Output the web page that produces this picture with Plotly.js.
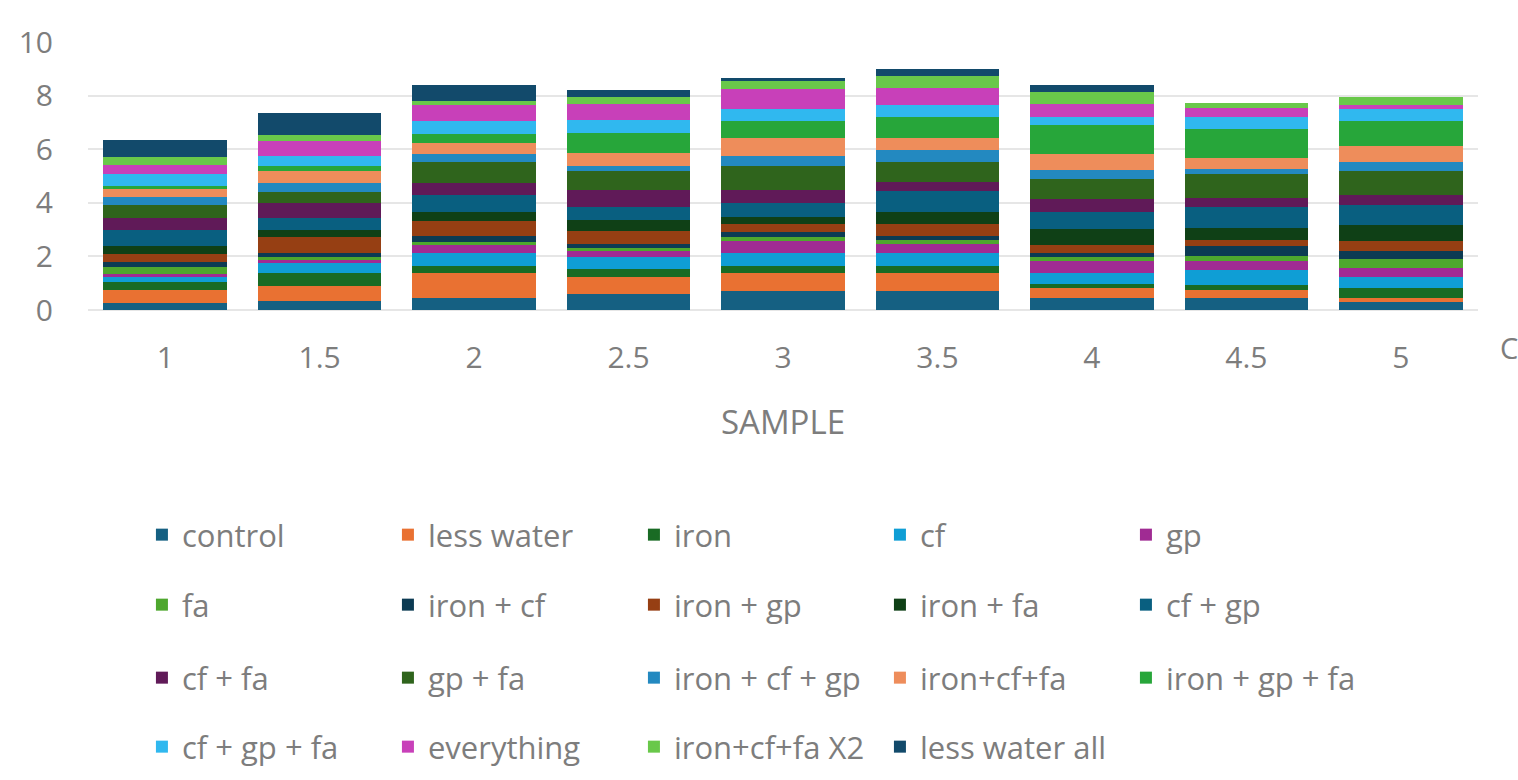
<!DOCTYPE html>
<html>
<head>
<meta charset="utf-8">
<script src="https://cdn.plot.ly/plotly-3.0.1.min.js"></script>
<style>
  html, body { margin: 0; padding: 0; background: #ffffff; }
  #chart { width: 1518px; height: 780px; }
</style>
</head>
<body>
<div id="chart"></div>
<script>
// ---- data ----
const categories = ["1", "1.5", "2", "2.5", "3", "3.5", "4", "4.5", "5"];

const seriesNames = [
  "control", "less water", "iron", "cf", "gp",
  "fa", "iron + cf", "iron + gp", "iron + fa", "cf + gp",
  "cf + fa", "gp + fa", "iron + cf + gp", "iron+cf+fa", "iron + gp + fa",
  "cf + gp + fa", "everything", "iron+cf+fa X2", "less water all"
];

const control        = [0.25, 0.35, 0.46, 0.60, 0.72, 0.72, 0.46, 0.44, 0.31];
const lessWater      = [0.50, 0.56, 0.91, 0.65, 0.65, 0.65, 0.35, 0.30, 0.15];
const iron           = [0.30, 0.46, 0.29, 0.29, 0.29, 0.29, 0.16, 0.20, 0.35];
const cf             = [0.20, 0.40, 0.46, 0.44, 0.46, 0.46, 0.40, 0.56, 0.44];
const gp             = [0.10, 0.10, 0.29, 0.21, 0.44, 0.34, 0.44, 0.31, 0.31];
const fa             = [0.25, 0.12, 0.12, 0.12, 0.15, 0.16, 0.15, 0.19, 0.34];
const ironCf         = [0.20, 0.12, 0.22, 0.15, 0.19, 0.16, 0.16, 0.37, 0.29];
const ironGp         = [0.30, 0.62, 0.57, 0.47, 0.30, 0.42, 0.31, 0.24, 0.37];
const ironFa         = [0.30, 0.25, 0.32, 0.44, 0.27, 0.46, 0.60, 0.45, 0.62];
const cfGp           = [0.60, 0.44, 0.65, 0.47, 0.52, 0.79, 0.62, 0.79, 0.75];
const cfFa           = [0.45, 0.56, 0.44, 0.62, 0.50, 0.31, 0.50, 0.34, 0.37];
const gpFa           = [0.45, 0.44, 0.79, 0.74, 0.87, 0.77, 0.75, 0.87, 0.87];
const ironCfGp       = [0.30, 0.31, 0.30, 0.16, 0.37, 0.44, 0.34, 0.22, 0.37];
const ironCfFa       = [0.30, 0.44, 0.41, 0.49, 0.67, 0.46, 0.59, 0.41, 0.59];
const ironGpFa       = [0.12, 0.21, 0.34, 0.74, 0.64, 0.77, 1.07, 1.06, 0.94];
const cfGpFa         = [0.47, 0.35, 0.47, 0.49, 0.46, 0.45, 0.30, 0.47, 0.44];
const everything     = [0.33, 0.56, 0.60, 0.60, 0.75, 0.64, 0.47, 0.32, 0.14];
const ironCfFaX2     = [0.30, 0.25, 0.15, 0.25, 0.29, 0.44, 0.47, 0.19, 0.30];
const lessWaterAll   = [0.62, 0.82, 0.59, 0.29, 0.12, 0.25, 0.24, 0.00, 0.00];

const seriesValues = [
  control, lessWater, iron, cf, gp,
  fa, ironCf, ironGp, ironFa, cfGp,
  cfFa, gpFa, ironCfGp, ironCfFa, ironGpFa,
  cfGpFa, everything, ironCfFaX2, lessWaterAll
];

const yTickValues = [0, 2, 4, 6, 8, 10];

// ---- styling ----
const colors = [
  "#156082", "#E97132", "#196B24", "#0F9ED5", "#A02B93",
  "#4EA72E", "#0C3B53", "#963F13", "#0F4016", "#095F80",
  "#601A58", "#2F641C", "#2389C0", "#EE8D5B", "#27A63A",
  "#30B8EF", "#C840B9", "#69C84A", "#124A6B"
];
const legendIds = ["legend", "legend2", "legend3", "legend4"];
const textColor = "#7d7d7d";
const fontFamily = "'Open Sans', 'Liberation Sans', Arial, sans-serif";

const traces = seriesNames.map((name, i) => ({
  type: "bar",
  name: name,
  x: categories,
  y: seriesValues[i],
  marker: { color: colors[i], line: { width: 0 } },
  legend: legendIds[Math.floor(i / 5)],
  hoverinfo: "x+y+name"
}));

function legendRow(yPix) {
  return {
    orientation: "h",
    xref: "container",
    yref: "container",
    x: 0.0935,
    xanchor: "left",
    y: 1 - yPix / 780,
    yanchor: "middle",
    entrywidth: 201,
    entrywidthmode: "pixels",
    font: { family: fontFamily, size: 31, color: textColor },
    bgcolor: "rgba(0,0,0,0)",
    traceorder: "normal",
    itemclick: false,
    itemdoubleclick: false
  };
}

const layout = {
  width: 1518,
  height: 780,
  paper_bgcolor: "#ffffff",
  plot_bgcolor: "#ffffff",
  barmode: "stack",
  bargap: 0.2,
  margin: { l: 88, r: 40, t: 42, b: 470, pad: 0 },
  font: { family: fontFamily, size: 28, color: textColor },
  xaxis: {
    type: "category",
    tickvals: categories,
    ticktext: categories,
    showgrid: false,
    showline: false,
    zeroline: false,
    ticks: "",
    ticklabelstandoff: 27,
    tickfont: { family: fontFamily, size: 30, color: textColor },
    title: { text: "SAMPLE", font: { family: fontFamily, size: 33, color: textColor }, standoff: 34 },
    automargin: false,
    fixedrange: true
  },
  yaxis: {
    range: [0, 10],
    tickvals: yTickValues,
    ticktext: yTickValues.map(String),
    showgrid: true,
    gridcolor: "#e6e6e6",
    gridwidth: 2,
    zeroline: true,
    zerolinecolor: "#e6e6e6",
    zerolinewidth: 2,
    showline: false,
    ticks: "",
    ticklabelstandoff: 34,
    tickfont: { family: fontFamily, size: 30, color: textColor },
    automargin: false,
    fixedrange: true
  },
  legend: legendRow(535),
  legend2: legendRow(605),
  legend3: legendRow(678),
  legend4: legendRow(747),
  annotations: [{
    xref: "paper", yref: "paper",
    x: 1, y: 0,
    xshift: 20, yshift: -37,
    xanchor: "left", yanchor: "middle",
    text: "C", showarrow: false,
    font: { family: fontFamily, size: 29, color: textColor }
  }]
};

Plotly.newPlot("chart", traces, layout, { displayModeBar: false, staticPlot: false });
</script>
</body>
</html>
